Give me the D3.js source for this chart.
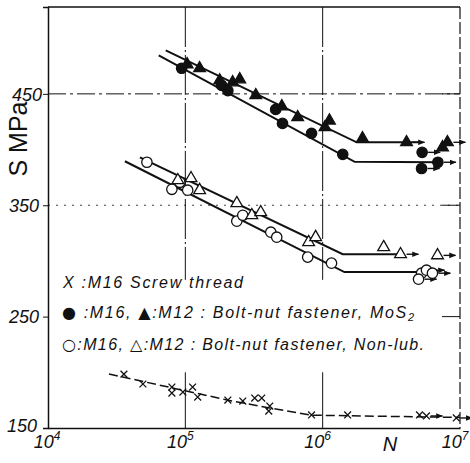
<!DOCTYPE html>
<html>
<head>
<meta charset="utf-8">
<script src="https://cdn.jsdelivr.net/npm/d3@7"></script>
<style>
  body { margin: 0; background: #fff; }
  text { fill: #111; }
</style>
</head>
<body>
<svg id="chart" width="470" height="463"></svg>
<script>
// values: [N cycles, S MPa, runout flag]
const mosM16 = [[9.4e4,473],[1.84e5,457.6],[2.04e5,453],[4.55e5,436],[5.1e5,423.5],[8.3e5,414.6],
  [1.4e6,395.7],[5.3e6,397.5,1],[6.9e6,388.6,1],[5.25e6,383,1]];
const mosM12 = [[1.03e5,476.5],[1.27e5,473],[1.78e5,462],[2.21e5,460.3],[2.49e5,463],[3.26e5,448.7],
  [5.04e5,438.8],[6.58e5,429],[1.12e6,426],[1.04e6,420],[1.95e6,410],[4.08e6,406.5,1],[7.46e6,402],[8.1e6,406.5,1]];
const dryM16 = [[5.25e4,388.6],[7.98e4,364.3],[9.12e4,370.6],[1.04e5,363.5],[2.37e5,335.7],[2.62e5,341],
  [4.19e5,325.8],[4.63e5,321.3],[7.78e5,303.4],[1.16e6,298],[5.25e6,289],[5.7e6,291.7,1],[6.3e6,289,1],[4.99e6,283.6,1]];
const dryM12 = [[8.82e4,372.4],[1.1e5,374.2],[1.27e5,363.5],[2.37e5,351.8],[3.05e5,341],[3.54e5,343.7],
  [7.9e5,316.8],[8.89e5,321.3],[2.78e6,312.3],[3.69e6,306,1],[6.86e6,305,1]];
const screwM16 = [[3.57e4,198.4],[4.91e4,189.5],[7.98e4,186.8],[7.98e4,181.4],[9.6e4,182.3],[1.13e5,186.8],
  [1.23e5,177.8],[2.04e5,175.1],[2.62e5,174.2],[3.2e5,176.9],[3.6e5,176.9],[4.12e5,169.7],[4.05e5,165.2],
  [8.3e5,161.7],[1.52e6,161.7],[5.07e6,161.7],[5.7e6,160.8,1],[9.4e6,159,1]];

// fitted S-N curves (start, knee, end)
const mosM12Curve = [[7.2e4,489],[1.77e6,406.5],[5.1e6,406.5]];
const mosM16Curve = [[6.4e4,484.5],[1.71e6,389],[7.1e6,388.5]];
const dryM12Curve = [[4.67e4,393],[1.4e6,306],[3.7e6,306]];
const dryM16Curve = [[3.63e4,389.5],[1.44e6,290],[5.5e6,290]];
const screwCurve = [[2.78e4,198.5],[2.04e5,175],[4.1e5,168],[8.3e5,161.5],[1e7,159.5]];

const xTicks = [1e4, 1e5, 1e6, 1e7];
const xExp = ["4", "5", "6", "7"];
const yTicks = [150, 250, 350, 450];
const xGrid = [1e5, 1e6];
const yGrid = [450, 350];

const svg = d3.select("#chart");
const ink = "#111";

const x = d3.scaleLog().domain([1e4, 1e7]).range([48, 460]);
const y = d3.scaleLinear().domain([150, 528]).range([428, 7]);

// arrow head for run-outs
svg.append("defs").append("marker")
  .attr("id", "arr").attr("viewBox", "0 0 10 10").attr("refX", 9).attr("refY", 5)
  .attr("markerWidth", 5).attr("markerHeight", 5).attr("orient", "auto")
  .append("path").attr("d", "M0,1 L10,5 L0,9 Z").attr("fill", ink);

// grid lines, broken where the legend sits
const grid = svg.append("g").attr("stroke", ink).attr("fill", "none");
xGrid.forEach(v => {
  grid.append("line").attr("x1", x(v)).attr("x2", x(v)).attr("y1", y(528)).attr("y2", y(283))
    .attr("stroke-width", 1).attr("stroke-dasharray", "40,3,2,3");
  grid.append("line").attr("x1", x(v)).attr("x2", x(v)).attr("y1", y(200)).attr("y2", y(150))
    .attr("stroke-width", 1);
});
grid.append("line").attr("x1", x(1e4)).attr("x2", x(1e7)).attr("y1", y(yGrid[0])).attr("y2", y(yGrid[0]))
  .attr("stroke-width", 1).attr("stroke-dasharray", "18,4,3,4");
grid.append("line").attr("x1", x(1e4)).attr("x2", x(1e7)).attr("y1", y(yGrid[1])).attr("y2", y(yGrid[1]))
  .attr("stroke-width", 0.8).attr("stroke-dasharray", "2,6");

// frame
const frame = svg.append("g").attr("stroke", ink).attr("fill", "none");
frame.append("line").attr("x1", x(1e4)).attr("x2", x(1e7)).attr("y1", y(528)).attr("y2", y(528)).attr("stroke-width", 1.4);
frame.append("line").attr("x1", x(1e7)).attr("x2", x(1e7)).attr("y1", y(528)).attr("y2", y(150))
  .attr("stroke-width", 1.2).attr("stroke-dasharray", "12,3");
yTicks.slice(1).forEach(v => {
  frame.append("line").attr("x1", x(1e7) - 18).attr("x2", x(1e7)).attr("y1", y(v)).attr("y2", y(v)).attr("stroke-width", 1);
});

// axes
const yAxis = svg.append("g").attr("transform", `translate(${x(1e4)},0)`)
  .call(d3.axisLeft(y).tickValues(yTicks).tickSize(5).tickPadding(4));
yAxis.select(".domain").attr("stroke", ink).attr("stroke-width", 1.5);
yAxis.selectAll(".tick line").attr("stroke", ink);
yAxis.selectAll(".tick text")
  .attr("font-family", "Liberation Sans, Arial, sans-serif").attr("font-style", "italic")
  .attr("font-size", 18).attr("fill", ink)
  .attr("x", d => d === 150 ? -11 : (d === 450 ? -6 : -9))
  .attr("dy", d => d === 150 ? "0.2em" : "0.35em");

const xAxis = svg.append("g").attr("transform", `translate(0,${y(150)})`)
  .call(d3.axisBottom(x).tickValues(xTicks).tickSize(0).tickFormat(""));
xAxis.select(".domain").attr("stroke", ink).attr("stroke-width", 1.5);

const xl = svg.append("g").attr("font-family", "Liberation Sans, Arial, sans-serif").attr("font-style", "italic");
xTicks.forEach((v, i) => {
  const t = xl.append("text").attr("x", x(v) - (i === 0 ? 1 : 5)).attr("y", 448).attr("text-anchor", "middle").attr("font-size", 18);
  t.append("tspan").text("10");
  t.append("tspan").attr("font-size", 12).attr("dy", -8).text(xExp[i]);
});
xl.append("text").attr("x", 390).attr("y", 451).attr("text-anchor", "middle").attr("font-size", 20).text("N");

svg.append("text")
  .attr("transform", "translate(27,139) rotate(-90)")
  .attr("text-anchor", "middle")
  .attr("font-family", "Liberation Sans, Arial, sans-serif")
  .attr("font-size", 25)
  .text("S MPa");

// curves
const line = d3.line().x(d => x(d[0])).y(d => y(d[1]));
const curves = svg.append("g").attr("fill", "none").attr("stroke", ink);
[mosM12Curve, mosM16Curve, dryM12Curve, dryM16Curve].forEach(c => {
  curves.append("path").attr("d", line(c)).attr("stroke-width", 2);
});
curves.append("path").attr("d", line(screwCurve)).attr("stroke-width", 1.5).attr("stroke-dasharray", "9,4");

// run-out arrows
function arrows(data, off) {
  svg.append("g").selectAll("line").data(data.filter(d => d[2])).join("line")
    .attr("x1", d => x(d[0]) + off).attr("x2", d => x(d[0]) + off + 12)
    .attr("y1", d => y(d[1])).attr("y2", d => y(d[1]))
    .attr("stroke", ink).attr("stroke-width", 1.4).attr("marker-end", "url(#arr)");
}
[mosM16, mosM12, dryM16, dryM12].forEach(d => arrows(d, 6));
arrows(screwM16, 4);

// markers
const tri = d3.symbol(d3.symbolTriangle, 60);
const cir = d3.symbol(d3.symbolCircle, 85);
const cross = d3.symbol(d3.symbolX, 32);
function marks(data, sym, filled) {
  svg.append("g").selectAll("path").data(data).join("path")
    .attr("transform", d => `translate(${x(d[0])},${y(d[1])})`)
    .attr("d", sym)
    .attr("fill", filled ? ink : "#fff")
    .attr("stroke", ink).attr("stroke-width", 1.3);
}
marks(mosM16, cir, true);
marks(mosM12, tri, true);
marks(dryM16, cir, false);
marks(dryM12, tri, false);
svg.append("g").selectAll("path").data(screwM16).join("path")
  .attr("transform", d => `translate(${x(d[0])},${y(d[1])})`)
  .attr("d", cross).attr("fill", "none").attr("stroke", ink).attr("stroke-width", 1.3);

// legend
const lg = svg.append("g").attr("font-family", "Liberation Sans, Arial, sans-serif")
  .attr("font-style", "italic").attr("font-size", 16);
const sym = "DejaVu Sans";
lg.append("text").attr("x", 63).attr("y", 288).attr("textLength", 180).attr("lengthAdjust", "spacing")
  .text("X :M16 Screw thread");
const l2 = lg.append("text").attr("x", 62).attr("y", 318).attr("textLength", 352).attr("lengthAdjust", "spacing");
l2.append("tspan").attr("font-family", sym).attr("font-style", "normal").text("●");
l2.append("tspan").text(" :M16, ");
l2.append("tspan").attr("font-family", sym).attr("font-style", "normal").text("▲");
l2.append("tspan").text(":M12 : Bolt-nut fastener, MoS");
l2.append("tspan").attr("font-size", 11).attr("dy", 3).text("2");
const l3 = lg.append("text").attr("x", 62).attr("y", 350).attr("textLength", 362).attr("lengthAdjust", "spacing");
l3.append("tspan").attr("font-family", sym).attr("font-style", "normal").text("○");
l3.append("tspan").text(":M16, ");
l3.append("tspan").attr("font-family", sym).attr("font-style", "normal").text("△");
l3.append("tspan").text(":M12 : Bolt-nut fastener, Non-lub.");
</script>
</body>
</html>
